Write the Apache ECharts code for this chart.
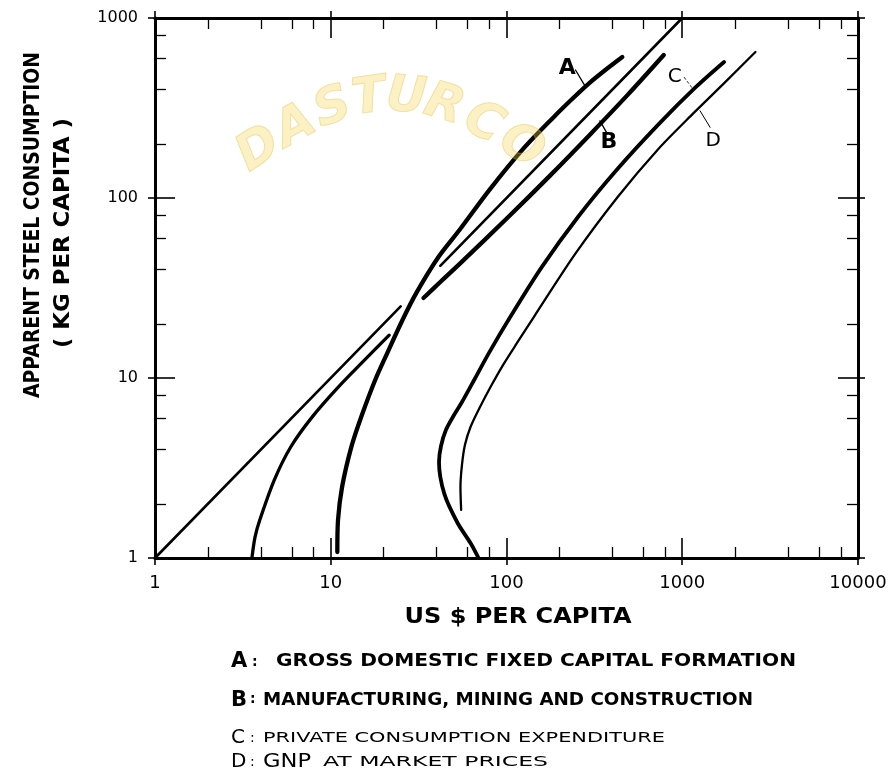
<!DOCTYPE html>
<html><head><meta charset="utf-8">
<script src="https://cdn.jsdelivr.net/npm/echarts@6/dist/echarts.min.js"></script>
<style>html,body{margin:0;padding:0;background:#fff}#c{width:891px;height:770px}</style>
</head><body><div id="c"></div>
<script>
// ---- tick labels ----
const xTickLabels = ['1', '10', '100', '1000', '10000'];
const yTickLabels = ['1', '10', '100', '1000'];
const xMinorTicks = [2, 4, 6, 8, 20, 40, 60, 80, 200, 400, 600, 800, 2000, 4000, 6000, 8000];
const yMinorTicks = [2, 4, 6, 8, 20, 40, 60, 80, 200, 400, 600, 800];

// ---- curves: [US $ per capita, kg per capita] ----
const refLow = [[1, 1], [25, 25]];
const refHigh = [[42, 42], [1000, 1000]];
const curveA = [[10.9, 1.08], [11.0, 1.63], [11.6, 2.48], [13.1, 4.14], [14.9, 6.07], [17.9, 9.75], [21.0, 13.8], [25.6, 21.0], [30.7, 29.7], [41.0, 47.0], [54.0, 66.4], [80.0, 111], [123, 185], [186, 282], [233, 350], [297, 436], [365, 514], [456, 607]];
const curveBLow = [[3.56, 1], [3.71, 1.31], [3.95, 1.63], [4.77, 2.71], [5.93, 4.15], [7.87, 6.1], [11.1, 8.95], [15.6, 12.6], [21.5, 17.3]];
const curveBHigh = [[33.7, 27.8], [42.6, 34.6], [54.7, 43.5], [101, 77.4], [178, 134], [301, 227], [489, 374], [785, 623]];
const curveC = [[69.3, 1], [62.4, 1.21], [52.6, 1.57], [44.3, 2.27], [41.3, 3.42], [42.4, 4.19], [45.2, 5.14], [49.9, 6.15], [55.4, 7.26], [66.4, 10.0], [79.5, 13.8], [105, 21.8], [159, 41.4], [255, 78.4], [423, 143], [737, 258], [1197, 414], [1729, 570]];
const curveD = [[55.2, 1.85], [54.7, 2.48], [55.8, 3.29], [58.0, 4.24], [62.4, 5.34], [70.2, 6.81], [81.1, 8.91], [95.5, 11.8], [115, 15.7], [143, 21.8], [246, 48.9], [428, 101], [723, 185], [1163, 297], [1738, 436], [2609, 647]];

// ---- curve labels & leaders (data coords) ----
const labelNames = ['A', 'B', 'C', 'D'];
const labelPoints = [[222, 526], [383, 203], [906, 469], [1499, 208]];
const leaderA = [[247, 514], [278, 424]];
const leaderB = [[340, 268], [375, 227]];
const leaderC = [[1024, 469], [1168, 395]];
const leaderD = [[1263, 305], [1440, 247]];

// ---- texts ----
const xTitle = 'US $ PER CAPITA';
const yTitle1 = 'APPARENT STEEL CONSUMPTION';
const yTitle2 = '( KG PER CAPITA )';
const legendKeys = ['A', 'B', 'C', 'D'];
const legendDescs = ['GROSS DOMESTIC FIXED CAPITAL FORMATION', 'MANUFACTURING, MINING AND CONSTRUCTION', 'PRIVATE CONSUMPTION EXPENDITURE', 'GNP', 'AT MARKET PRICES'];
const watermark = 'DASTURCO';

const FONT = '"DejaVu Sans", "Liberation Sans", sans-serif';
const mctx = document.createElement('canvas').getContext('2d');
function measure(text, font) { mctx.font = font; return mctx.measureText(text).width; }
function fitText(text, weight, size, x, y, targetW, opts) {
  opts = opts || {};
  const font = weight + ' ' + size + 'px ' + FONT;
  const w = measure(text, font);
  return {
    type: 'text', x: x, y: y, rotation: opts.rotation || 0,
    scaleX: targetW / w, z: 50, silent: true,
    style: { text: text, font: font, fill: '#000', align: opts.align || 'left', verticalAlign: 'middle' }
  };
}

const chart = echarts.init(document.getElementById('c'), null, { renderer: 'canvas' });
const black = '#000';

function logAxisX(pos, show) {
  return {
    type: 'log', logBase: 10, min: 1, max: 10000, position: pos, gridIndex: 0,
    axisLine: { show: true, onZero: false, lineStyle: { color: black, width: 3 } },
    axisTick: { show: true, inside: true, length: 20, lineStyle: { color: black, width: 1.6 } },
    axisLabel: { show: show, margin: 16, color: black, fontSize: 18, fontFamily: FONT,
      formatter: v => xTickLabels[Math.round(Math.log10(v))] },
    splitLine: { show: false }, minorTick: { show: false }
  };
}
function logAxisY(pos, show) {
  return {
    type: 'log', logBase: 10, min: 1, max: 1000, position: pos, gridIndex: 0,
    axisLine: { show: true, onZero: false, lineStyle: { color: black, width: 3 } },
    axisTick: { show: true, inside: true, length: 20, lineStyle: { color: black, width: 1.6 } },
    axisLabel: { show: show, margin: 17, color: black, fontSize: 16, fontFamily: FONT,
      formatter: v => yTickLabels[Math.round(Math.log10(v))] },
    splitLine: { show: false }, minorTick: { show: false }
  };
}
function outerTickAxis(pos, max) {
  return {
    type: 'log', logBase: 10, min: 1, max: max, position: pos, gridIndex: 0,
    axisLine: { show: false, onZero: false },
    axisTick: { show: true, inside: false, length: 7, lineStyle: { color: black, width: 1.6 } },
    axisLabel: { show: false }, splitLine: { show: false }
  };
}
function minorAxis(pos, max, vals) {
  return {
    type: 'value', min: 0, max: max, position: pos, gridIndex: 0,
    axisLine: { show: false, onZero: false },
    axisTick: { show: true, inside: true, length: 11, customValues: vals.map(v => Math.log10(v)),
      lineStyle: { color: black, width: 1.3 } },
    axisLabel: { show: false }, splitLine: { show: false }
  };
}

function lineSeries(data, width, extra) {
  return Object.assign({
    type: 'line', data: data, xAxisIndex: 0, yAxisIndex: 0, symbol: 'none', smooth: 0.3,
    lineStyle: { color: black, width: width, cap: 'round', join: 'round' }, z: 5, silent: true
  }, extra || {});
}

const labelStyles = [
  { fontSize: 22, fontWeight: 'bold' }, { fontSize: 22, fontWeight: 'bold' },
  { fontSize: 20, fontWeight: 'normal' }, { fontSize: 20, fontWeight: 'normal' }
];

const series = [
  lineSeries(refLow, 2.6, { smooth: false }),
  lineSeries(refHigh, 2.6, { smooth: false }),
  lineSeries(curveA, 4.3),
  lineSeries(curveBLow, 3.3),
  lineSeries(curveBHigh, 4.3),
  lineSeries(curveC, 3.8),
  lineSeries(curveD, 2.3),
  lineSeries(leaderA, 1.3, { smooth: false }),
  lineSeries(leaderB, 1.3, { smooth: false }),
  lineSeries(leaderC, 1, { smooth: false, lineStyle: { color: '#222', width: 1, type: [3, 2] } }),
  lineSeries(leaderD, 1, { smooth: false }),
  {
    type: 'scatter', xAxisIndex: 0, yAxisIndex: 0, symbolSize: 0, silent: true, z: 6,
    itemStyle: { opacity: 1 },
    data: labelPoints.map((p, i) => ({
      value: p, name: labelNames[i],
      label: Object.assign({ show: true, position: 'inside', formatter: '{b}', color: black, opacity: 1, fontFamily: FONT }, labelStyles[i])
    }))
  }
];

// watermark letters along an arc
const wmPos = [[259, 150, 33], [296, 127, 29], [333, 109, 20], [369, 99, 8], [406, 98, -5], [444, 106, -17], [483, 124, -27], [521, 147, -33]];
const graphics = [];
watermark.split('').forEach((ch, i) => {
  const p = wmPos[i];
  graphics.push({
    type: 'text', x: p[0], y: p[1], rotation: p[2] * Math.PI / 180, z: 100, silent: true,
    style: { text: ch, font: 'italic bold 50px ' + FONT, fill: 'rgba(243,214,80,0.33)',
      stroke: 'rgba(225,185,60,0.4)', lineWidth: 1, align: 'center', verticalAlign: 'middle' }
  });
});

// axis titles
graphics.push(fitText(xTitle, 'bold', 22, 518, 617, 227, { align: 'center' }));
graphics.push(fitText(yTitle1, 'bold', 21, 34, 225, 346, { align: 'center', rotation: Math.PI / 2 }));
graphics.push(fitText(yTitle2, 'bold', 21, 64, 233, 230, { align: 'center', rotation: Math.PI / 2 }));

// legend rows
function keyText(t, weight, size, x, y) {
  return { type: 'text', x: x, y: y, z: 50, silent: true,
    style: { text: t, font: weight + ' ' + size + 'px ' + FONT, fill: '#000', align: 'left', verticalAlign: 'middle' } };
}
const rowY = [662, 701, 738, 762];
graphics.push(keyText(legendKeys[0], 'bold', 21, 231, rowY[0]));
graphics.push(keyText(':', 'bold', 14, 252, rowY[0]));
graphics.push(fitText(legendDescs[0], 'bold', 17, 276, rowY[0], 520));
graphics.push(keyText(legendKeys[1], 'bold', 21, 231, rowY[1]));
graphics.push(keyText(':', 'bold', 14, 250, rowY[1] - 2));
graphics.push(fitText(legendDescs[1], 'bold', 17, 263, rowY[1], 490));
graphics.push(keyText(legendKeys[2], 'normal', 20, 231, rowY[2]));
graphics.push(keyText(':', 'normal', 14, 250, rowY[2]));
graphics.push(fitText(legendDescs[2], 'normal', 14, 263, rowY[2], 402));
graphics.push(keyText(legendKeys[3], 'normal', 20, 231, rowY[3]));
graphics.push(keyText(':', 'normal', 14, 250, rowY[3]));
graphics.push(fitText(legendDescs[3], 'normal', 20, 263, rowY[3], 48));
graphics.push(fitText(legendDescs[4], 'normal', 14, 323, rowY[3], 225));

chart.setOption({
  animation: false,
  backgroundColor: '#fff',
  grid: { left: 155, top: 18, right: 33, bottom: 212, containLabel: false },
  xAxis: [
    logAxisX('bottom', true),
    logAxisX('top', false),
    outerTickAxis('bottom', 10000),
    outerTickAxis('top', 10000),
    minorAxis('bottom', 4, xMinorTicks),
    minorAxis('top', 4, xMinorTicks)
  ],
  yAxis: [
    logAxisY('left', true),
    logAxisY('right', false),
    outerTickAxis('left', 1000),
    outerTickAxis('right', 1000),
    minorAxis('left', 3, yMinorTicks),
    minorAxis('right', 3, yMinorTicks)
  ],
  series: series,
  graphic: graphics
});
</script></body></html>
